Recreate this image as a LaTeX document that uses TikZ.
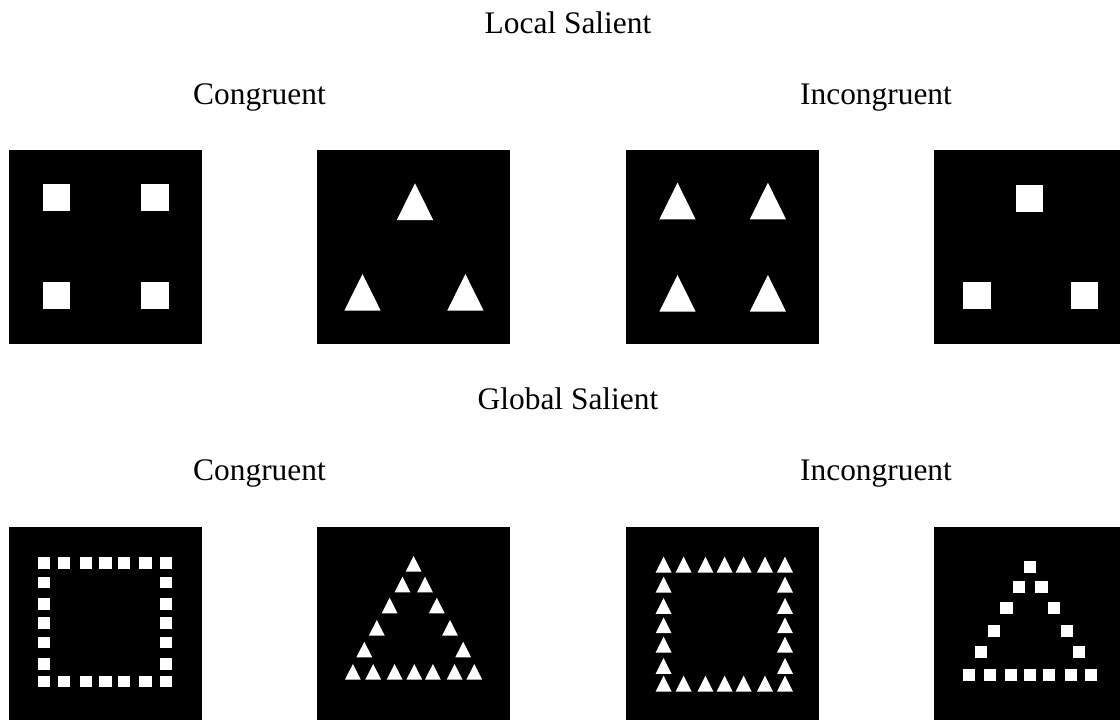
\documentclass[tikz,border=0pt]{standalone}
\usepackage{fontspec}
\setmainfont{Liberation Serif}
\begin{document}
\begin{tikzpicture}[x=0.75pt,y=-0.75pt,
  lbl/.style={font=\fontsize{23.55}{28}\selectfont, inner sep=0pt, anchor=base},
  panel/.style={fill=black},
  fig/.style={fill=white}]
\useasboundingbox (0,0) rectangle (1120,719);
\clip (0,0) rectangle (1120,719);
% titles
\node[lbl] (local)  at (568,33)    {Local Salient};
\node[lbl] (cong1)  at (259.5,104) {Congruent};
\node[lbl] (incg1)  at (876,104)   {Incongruent};
\node[lbl] (global) at (568,409)   {Global Salient};
\node[lbl] (cong2)  at (259.5,480) {Congruent};
\node[lbl] (incg2)  at (876,480)   {Incongruent};
% panels
\foreach \x in {9,317,626,934}{
  \fill[panel] (\x,150) rectangle ++(193,194);
  \fill[panel] (\x,527) rectangle ++(193,194);
}
% ---- local salient, congruent
\foreach \x/\y in {42.5/184.3,141/184.3,42.5/282.3,141/282.3}
  \fill[fig] (\x,\y) rectangle ++(27.7,27);
\foreach \x/\y in {415/183.3,362.5/274,465.4/274}
  \fill[fig] (\x,\y) -- ++(-18.2,36.7) -- ++(36.4,0) -- cycle;
% ---- local salient, incongruent
\foreach \x/\y in {677.5/182.7,767.9/182.7,677.5/275,767.9/275}
  \fill[fig] (\x,\y) -- ++(-18.1,36.6) -- ++(36.2,0) -- cycle;
\foreach \x/\y in {1015.7/185,963.2/281.7,1070.7/281.7}
  \fill[fig] (\x,\y) rectangle ++(27.3,27.2);
% ---- global salient, congruent: square of squares
\foreach \x in {44.3,64.3,85.7,105.4,124.3,145.4,165.7}{
  \fill[fig] (\x-6.1,562.7-5.8) rectangle ++(12.2,11.6);
  \fill[fig] (\x-6.1,681.5-5.8) rectangle ++(12.2,11.6);
}
\foreach \y in {582.5,603.8,623.2,642.3,663.7}{
  \fill[fig] (44.3-6.1,\y-5.8) rectangle ++(12.2,11.6);
  \fill[fig] (165.7-6.1,\y-5.8) rectangle ++(12.2,11.6);
}
% triangle of triangles
\foreach \x/\y in {413.6/556,402.5/576.7,425/576.7,389.6/597.7,436.8/597.7,
  376.8/620,450/620,364.3/641.7,463.2/641.7,
  352.9/664,373.2/664,394.6/664,414.3/664,432.9/664,454.6/664,474.3/664}
  \fill[fig] (\x,\y) -- ++(-7.9,15.6) -- ++(15.8,0) -- cycle;
% ---- global salient, incongruent: square of triangles
\foreach \x in {663.6,683.6,705.4,724.6,743.6,765,785}{
  \fill[fig] (\x,556.7) -- ++(-7.9,15.8) -- ++(15.8,0) -- cycle;
  \fill[fig] (\x,675.7) -- ++(-7.9,15.8) -- ++(15.8,0) -- cycle;
}
\foreach \y in {576.7,598,617.3,636.7,658}{
  \fill[fig] (663.6,\y) -- ++(-7.9,15.8) -- ++(15.8,0) -- cycle;
  \fill[fig] (785,\y) -- ++(-7.9,15.8) -- ++(15.8,0) -- cycle;
}
% triangle of squares
\foreach \x/\y in {1024.3/560.7,1012.9/581,1035.4/581,1000.4/602.3,1047.9/602.3,
  987.5/625,1060.7/625,974.6/646.3,1073.2/646.3,
  963.2/669.3,983.6/669.3,1005/669.3,1024.3/669.3,1043.2/669.3,1064.6/669.3,1084.6/669.3}
  \fill[fig] (\x,\y) rectangle ++(12.1,11.8);
\end{tikzpicture}
\end{document}
